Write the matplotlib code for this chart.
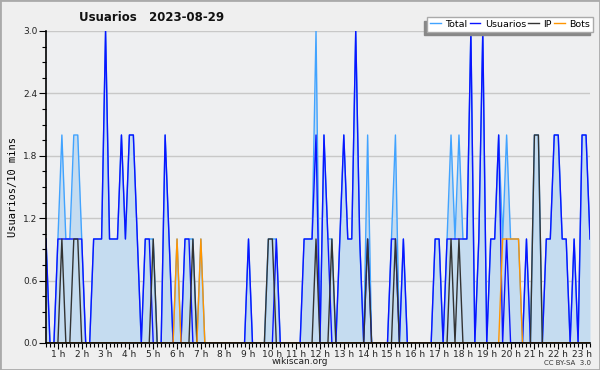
import matplotlib
matplotlib.use("Agg")
import matplotlib.pyplot as plt
from matplotlib.patches import Rectangle
from matplotlib.ticker import MultipleLocator, FixedLocator
import numpy as np

# 10-minute samples, first one at 00:30
start_hour = 0.5
step_hours = 1 / 6

total = [1, 0, 0, 1, 2, 1, 1, 2, 2, 1, 0, 0,
         1, 1, 1, 3, 1, 1, 1, 2, 1, 2, 2, 1,
         0, 1, 1, 1, 0, 0, 2, 1, 0, 1, 0, 1,
         1, 1, 0, 1, 0, 0, 0, 0, 0, 0, 0, 0,
         0, 0, 0, 1, 0, 0, 0, 0, 1, 1, 1, 0,
         0, 0, 0, 0, 0, 1, 1, 1, 3, 0, 2, 1,
         1, 0, 1, 2, 1, 1, 3, 1, 0, 2, 0, 0,
         0, 0, 0, 1, 2, 0, 1, 0, 0, 0, 0, 0,
         0, 0, 1, 1, 0, 1, 2, 1, 2, 1, 1, 3,
         0, 1, 3, 0, 1, 1, 2, 1, 2, 1, 1, 1,
         0, 1, 0, 2, 2, 0, 1, 1, 2, 2, 1, 1,
         0, 1, 0, 2, 2, 1]

usuarios = [1, 0, 0, 1, 1, 1, 1, 1, 1, 1, 0, 0,
            1, 1, 1, 3, 1, 1, 1, 2, 1, 2, 2, 1,
            0, 1, 1, 0, 0, 0, 2, 1, 0, 0, 0, 1,
            1, 0, 0, 0, 0, 0, 0, 0, 0, 0, 0, 0,
            0, 0, 0, 1, 0, 0, 0, 0, 0, 0, 1, 0,
            0, 0, 0, 0, 0, 1, 1, 1, 2, 0, 2, 1,
            0, 0, 1, 2, 1, 1, 3, 1, 0, 1, 0, 0,
            0, 0, 0, 1, 1, 0, 1, 0, 0, 0, 0, 0,
            0, 0, 1, 1, 0, 1, 1, 1, 1, 1, 1, 3,
            0, 1, 3, 0, 1, 1, 2, 0, 1, 0, 0, 0,
            0, 1, 0, 0, 0, 0, 1, 1, 2, 2, 1, 1,
            0, 1, 0, 2, 2, 1]

ip = [0, 0, 0, 0, 1, 0, 0, 1, 1, 0, 0, 0,
      0, 0, 0, 0, 0, 0, 0, 0, 0, 0, 0, 0,
      0, 0, 0, 1, 0, 0, 0, 0, 0, 0, 0, 0,
      0, 1, 0, 0, 0, 0, 0, 0, 0, 0, 0, 0,
      0, 0, 0, 0, 0, 0, 0, 0, 1, 1, 0, 0,
      0, 0, 0, 0, 0, 0, 0, 0, 1, 0, 0, 0,
      1, 0, 0, 0, 0, 0, 0, 0, 0, 1, 0, 0,
      0, 0, 0, 0, 1, 0, 0, 0, 0, 0, 0, 0,
      0, 0, 0, 0, 0, 0, 1, 0, 1, 0, 0, 0,
      0, 0, 0, 0, 0, 0, 0, 0, 0, 0, 0, 0,
      0, 0, 0, 2, 2, 0, 0, 0, 0, 0, 0, 0,
      0, 0, 0, 0, 0, 0]

bots = [0, 0, 0, 0, 0, 0, 0, 0, 0, 0, 0, 0,
        0, 0, 0, 0, 0, 0, 0, 0, 0, 0, 0, 0,
        0, 0, 0, 0, 0, 0, 0, 0, 0, 1, 0, 0,
        0, 0, 0, 1, 0, 0, 0, 0, 0, 0, 0, 0,
        0, 0, 0, 0, 0, 0, 0, 0, 0, 0, 0, 0,
        0, 0, 0, 0, 0, 0, 0, 0, 0, 0, 0, 0,
        0, 0, 0, 0, 0, 0, 0, 0, 0, 0, 0, 0,
        0, 0, 0, 0, 0, 0, 0, 0, 0, 0, 0, 0,
        0, 0, 0, 0, 0, 0, 0, 0, 0, 0, 0, 0,
        0, 0, 0, 0, 0, 0, 0, 1, 1, 1, 1, 1,
        0, 0, 0, 0, 0, 0, 0, 0, 0, 0, 0, 0,
        0, 0, 0, 0, 0, 0]

hour_ticks = list(range(1, 24))
hour_labels = [f"{h} h" for h in hour_ticks]
y_ticks = [0.0, 0.6, 1.2, 1.8, 2.4, 3.0]

hours = start_hour + step_hours * np.arange(len(total))

fig = plt.figure(figsize=(6, 3.7), dpi=100, facecolor="#efefef")
ax = fig.add_axes([46 / 600, 27 / 370, 544 / 600, 312 / 370])
ax.set_facecolor("#eeeff1")

# grid first
for y in y_ticks:
    ax.axhline(y, color="#c8c8c8", lw=1, zorder=1)

ax.fill_between(hours, total, 0, color="#c5dcf0", lw=0, zorder=2)
ax.plot(hours, total, color="#41a3ff", lw=1.0, label="Total", zorder=3)
ax.plot(hours, usuarios, color="#0a14ff", lw=1.0, label="Usuarios", zorder=4)
ax.plot(hours, ip, color="#333333", lw=1.0, label="IP", zorder=5)
ax.plot(hours, bots, color="#ff9500", lw=1.0, label="Bots", zorder=6)

ax.set_xlim(hours[0], hours[-1])
ax.set_ylim(0, 3.0)

ax.xaxis.set_major_locator(FixedLocator(hour_ticks))
ax.set_xticklabels(hour_labels)
ax.xaxis.set_minor_locator(MultipleLocator(step_hours))
ax.yaxis.set_major_locator(FixedLocator(y_ticks))
ax.set_yticklabels([f"{v:.1f}" for v in y_ticks])
ax.yaxis.set_minor_locator(MultipleLocator(0.15))

ax.tick_params(axis="x", which="major", length=4, width=0.8, direction="out",
               labelsize=6.5, pad=1, colors="black", labelcolor="#222222")
ax.tick_params(axis="x", which="minor", length=3, width=0.8, direction="out")
ax.tick_params(axis="y", which="major", length=5, width=0.8, direction="out",
               labelsize=6.5, pad=1, labelcolor="#222222")
ax.tick_params(axis="y", which="minor", length=3, width=0.8, direction="out")

for side in ["top", "right"]:
    ax.spines[side].set_visible(False)
for side in ["left", "bottom"]:
    ax.spines[side].set_linewidth(1.2)
    ax.spines[side].set_zorder(7)

ax.set_ylabel("Usuarios/10 mins", fontsize=7.5, family="DejaVu Sans Mono", labelpad=4)

fig.text(0.252, 0.953, "Usuarios   2023-08-29", fontsize=8.5, fontweight="bold",
         ha="center", va="center", color="#111111")
fig.text(0.5, 0.022, "wikiscan.org", fontsize=6.5, ha="center", va="center", color="#222222")
fig.text(0.985, 0.018, "CC BY-SA  3.0", fontsize=5, ha="right", va="center", color="#333333")

leg = ax.legend(loc="upper right", ncol=4, bbox_to_anchor=(1.006, 1.045),
                fontsize=6.8, frameon=True, fancybox=False, handlelength=1.1,
                handletextpad=0.5, columnspacing=0.25, borderpad=0.3,
                borderaxespad=0,
                shadow={"ox": -2.6, "oy": -2.6, "facecolor": "#888888",
                        "edgecolor": "#888888", "alpha": 1})
leg.get_frame().set_edgecolor("#aaaaaa")
leg.get_frame().set_linewidth(1)
leg.set_zorder(10)

# outer frame of the picture
fig.patches.append(Rectangle((0, 0), 1, 1, transform=fig.transFigure,
                             fill=False, edgecolor="#aaaaaa", lw=2))

fig.savefig("out.png", dpi=100, facecolor=fig.get_facecolor())
